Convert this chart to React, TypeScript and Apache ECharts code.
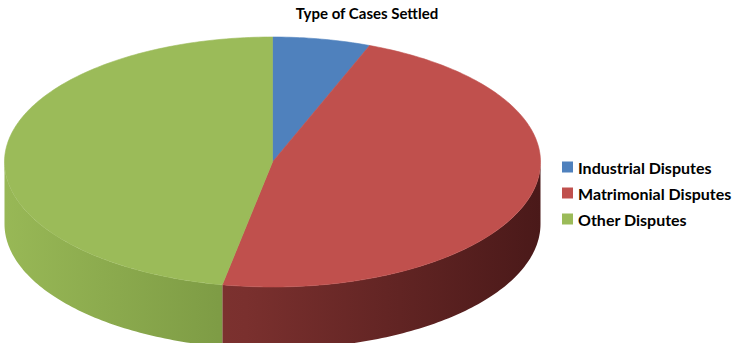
import React, { useEffect, useRef } from "react";
import * as echarts from "echarts";

const categories = ["Industrial Disputes", "Matrimonial Disputes", "Other Disputes"];
const values = [5.9, 47.1, 47.0];
const topColors = ["#4F81BD", "#C0504D", "#9BBB59"];
const sideStops = [
  [{ offset: 0, color: "#3e6a9e" }, { offset: 1, color: "#2c4d75" }],
  [{ offset: 0, color: "#8a3a37" }, { offset: 0.45, color: "#7a302e" }, { offset: 1, color: "#4a1919" }],
  [{ offset: 0, color: "#98b856" }, { offset: 0.4, color: "#7e9c45" }, { offset: 1, color: "#6a8538" }],
];

const CX = 272.5, CY = 162, RX = 268, RY = 125, DEPTH = 62;

function pt(theta: number, dy = 0): number[] {
  return [CX + RX * Math.sin(theta), CY - RY * Math.cos(theta) + dy];
}

function arc(a0: number, a1: number, dy = 0): number[][] {
  const pts: number[][] = [];
  const n = Math.max(2, Math.ceil(((a1 - a0) * 180) / Math.PI));
  for (let i = 0; i <= n; i++) pts.push(pt(a0 + ((a1 - a0) * i) / n, dy));
  return pts;
}

export default function App() {
  const ref = useRef<HTMLDivElement>(null);
  useEffect(() => {
    if (!ref.current) return;
    const chart = echarts.init(ref.current, null, { renderer: "svg" });
    const total = values.reduce((a, b) => a + b, 0);
    let cum = 0;
    const series = categories.map((name, i) => {
      const start = cum / total;
      cum += values[i];
      const end = cum / total;
      return {
        type: "custom",
        name,
        coordinateSystem: "none",
        itemStyle: { color: topColors[i] },
        data: [[start, end]],
        renderItem: (params: any, api: any) => {
          const a0 = api.value(0) * Math.PI * 2;
          const a1 = api.value(1) * Math.PI * 2;
          const children: any[] = [];
          const s0 = Math.max(a0, Math.PI / 2);
          const s1 = Math.min(a1, (Math.PI * 3) / 2);
          if (s1 > s0) {
            const top = arc(s0, s1, 0);
            const bottom = arc(s0, s1, DEPTH).reverse();
            children.push({
              type: "polygon",
              z2: 1,
              shape: { points: top.concat(bottom) },
              style: {
                fill: new echarts.graphic.LinearGradient(4, 0, 541, 0, sideStops[i], true),
                stroke: null,
              },
            });
          }
          const face = [[CX, CY]].concat(arc(a0, a1, 0));
          children.push({
            type: "polygon",
            z2: 10,
            shape: { points: face },
            style: { fill: topColors[i], stroke: topColors[i], lineWidth: 0.6 },
          });
          return { type: "group", children };
        },
      };
    });
    chart.setOption({
      animation: false,
      title: {
        text: "Type of Cases Settled",
        left: 367,
        textAlign: "center",
        top: 5,
        padding: 0,
        textStyle: { fontFamily: "Lato", fontWeight: "bold", fontSize: 15, color: "#000" },
      },
      legend: {
        orient: "vertical",
        left: 562,
        top: 159,
        padding: 0,
        itemWidth: 11,
        itemHeight: 11,
        itemGap: 10,
        icon: "rect",
        data: categories,
        textStyle: { fontFamily: "Lato", fontWeight: "bold", fontSize: 16, color: "#000" },
      },
      series,
    } as any);
    return () => chart.dispose();
  }, []);
  return (
    <div
      ref={ref}
      style={{ position: "fixed", left: 0, top: 0, width: 752, height: 343, background: "#fff" }}
    />
  );
}
